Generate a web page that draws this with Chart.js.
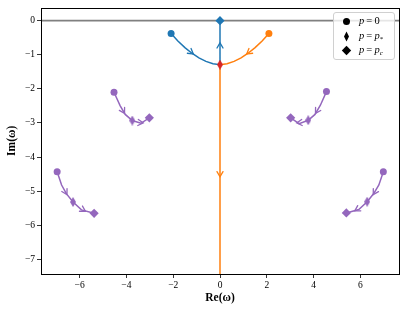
<!DOCTYPE html>
<html>
<head>
<meta charset="utf-8">
<script src="https://cdn.jsdelivr.net/npm/chart.js@4/dist/chart.umd.min.js"></script>
<style>
  body { margin: 0; background: #fff; }
  #wrap { position: relative; width: 407px; height: 314px; }
  #legend {
    position: absolute; left: 333px; top: 12px; width: 60px; height: 46px;
    border: 1px solid #d0d0d0; border-radius: 3px; background: rgba(255,255,255,0.8);
    font-family: "Liberation Serif", "Times New Roman", serif; font-size: 10.5px; color: #000;
  }
  .row { position: absolute; left: 0; height: 14px; line-height: 14px; width: 60px; }
  .row svg { position: absolute; left: 7px; top: 2px; }
  .row span { position: absolute; left: 25px; white-space: nowrap; }
  .row i { font-style: italic; }
  sub { font-size: 7px; vertical-align: -2px; }
</style>
</head>
<body>
<div id="wrap">
  <canvas id="chart" width="407" height="314"></canvas>
  <div id="legend">
    <div class="row" style="top:1px"><svg width="11" height="11"><circle cx="5.5" cy="5.5" r="3.5" fill="#000"/></svg><span><i>p</i>&#8201;=&#8201;0</span></div>
    <div class="row" style="top:16px"><svg width="11" height="11"><polygon points="5.5,0.5 8,5.5 5.5,10.5 3,5.5" fill="#000"/></svg><span><i>p</i>&#8201;=&#8201;<i>p</i><sub>*</sub></span></div>
    <div class="row" style="top:30px"><svg width="11" height="11"><polygon points="5.5,0.8 10.2,5.5 5.5,10.2 0.8,5.5" fill="#000"/></svg><span><i>p</i>&#8201;=&#8201;<i>p</i><sub><i>c</i></sub></span></div>
  </div>
</div>
<script>
// axis ticks
const xTicks = [-6, -4, -2, 0, 2, 4, 6];
const yTicks = [0, -1, -2, -3, -4, -5, -6, -7];

// root trajectories, Re and Im parts
const blueX = [-2.09, -1.8, -1.5, -1.2, -0.9, -0.6, -0.3, 0, 0];
const blueY = [-0.38, -0.595, -0.789, -0.955, -1.09, -1.194, -1.263, -1.29, 0];
const orangeX = [2.09, 1.8, 1.5, 1.2, 0.9, 0.6, 0.3, 0, 0];
const orangeY = [-0.38, -0.595, -0.789, -0.955, -1.09, -1.194, -1.263, -1.29, -8];
const purpleULX = [-4.53, -4.27, -4.05, -3.75, -3.38, -3.02];
const purpleULY = [-2.10, -2.49, -2.75, -2.93, -3.01, -2.85];
const purpleURX = [4.55, 4.29, 4.06, 3.77, 3.38, 3.02];
const purpleURY = [-2.08, -2.48, -2.75, -2.92, -3.02, -2.85];
const purpleLLX = [-6.96, -6.77, -6.56, -6.28, -5.92, -5.38];
const purpleLLY = [-4.43, -4.82, -5.08, -5.32, -5.55, -5.65];
const purpleLRX = [6.98, 6.79, 6.57, 6.29, 5.93, 5.40];
const purpleLRY = [-4.43, -4.82, -5.07, -5.31, -5.54, -5.64];

// markers: p = 0, p = p*, p = pc
const blueStartX = [-2.09];
const blueStartY = [-0.38];
const orangeStartX = [2.09];
const orangeStartY = [-0.38];
const purpleStartX = [-4.53, 4.55, -6.96, 6.98];
const purpleStartY = [-2.10, -2.08, -4.43, -4.43];
const redStarX = [0];
const redStarY = [-1.29];
const purpleStarX = [-3.75, 3.77, -6.28, 6.29];
const purpleStarY = [-2.93, -2.92, -5.32, -5.31];
const blueEndX = [0];
const blueEndY = [0];
const purpleEndX = [-3.02, 3.02, -5.38, 5.40];
const purpleEndY = [-2.85, -2.85, -5.65, -5.64];

// arrow heads: [from x, from y, tip x, tip y]
const blueArrows = [[-1.5, -0.789, -1.14, -0.98], [0, -1.0, 0, -0.65]];
const orangeArrows = [[1.5, -0.789, 1.14, -0.98], [0, -4.0, 0, -4.58]];
const purpleArrows = [
  [-4.27, -2.49, -4.08, -2.72], [-3.6, -2.98, -3.28, -3.0],
  [4.29, -2.48, 4.08, -2.72], [3.6, -2.98, 3.28, -3.0],
  [-6.77, -4.82, -6.54, -5.1], [-6.1, -5.45, -5.75, -5.59],
  [6.79, -4.82, 6.55, -5.1], [6.1, -5.44, 5.76, -5.58]
];

const BLUE = '#1f77b4', ORANGE = '#ff7f0e', RED = '#d62728', PURPLE = '#9467bd';
const serif = '"Liberation Serif", "Times New Roman", serif';

const pts = (xs, ys) => xs.map((x, i) => ({ x: x, y: ys[i] }));

function thinDiamond(color) {
  const c = document.createElement('canvas');
  c.width = 6; c.height = 10;
  const g = c.getContext('2d');
  g.fillStyle = color;
  g.beginPath();
  g.moveTo(3, 0); g.lineTo(6, 5); g.lineTo(3, 10); g.lineTo(0, 5);
  g.closePath(); g.fill();
  return c;
}

function path(xs, ys, color) {
  return { data: pts(xs, ys), showLine: true, borderColor: color, borderWidth: 1.5,
           pointRadius: 0, fill: false, tension: 0, order: 5 };
}

function marks(xs, ys, color, style, r) {
  return { data: pts(xs, ys), showLine: false, pointStyle: style, pointRadius: r,
           backgroundColor: color, borderColor: color, borderWidth: 0, order: 1 };
}

const arrowPlugin = {
  id: 'arrows',
  afterDatasetsDraw(chart) {
    const { ctx, scales: { x, y } } = chart;
    const groups = [[blueArrows, BLUE], [orangeArrows, ORANGE], [purpleArrows, PURPLE]];
    ctx.save();
    ctx.lineWidth = 1.3;
    ctx.lineCap = 'round';
    groups.forEach(([list, color]) => {
      ctx.strokeStyle = color;
      list.forEach(a => {
        const x0 = x.getPixelForValue(a[0]), y0 = y.getPixelForValue(a[1]);
        const x1 = x.getPixelForValue(a[2]), y1 = y.getPixelForValue(a[3]);
        const ang = Math.atan2(y1 - y0, x1 - x0);
        const L = 6, spread = Math.PI / 6;
        ctx.beginPath();
        ctx.moveTo(x1 - L * Math.cos(ang - spread), y1 - L * Math.sin(ang - spread));
        ctx.lineTo(x1, y1);
        ctx.lineTo(x1 - L * Math.cos(ang + spread), y1 - L * Math.sin(ang + spread));
        ctx.stroke();
      });
    });
    ctx.restore();
  }
};

const framePlugin = {
  id: 'frame',
  afterDraw(chart) {
    const { ctx, chartArea: a } = chart;
    ctx.save();
    ctx.strokeStyle = '#000';
    ctx.lineWidth = 1;
    ctx.strokeRect(Math.round(a.left) + 0.5, Math.round(a.top) + 0.5,
                   Math.round(a.right - a.left), Math.round(a.bottom - a.top));
    ctx.restore();
  }
};

const tickFmt = v => (v < 0 ? '\u2212' + Math.abs(v) : String(v));

new Chart(document.getElementById('chart'), {
  type: 'scatter',
  data: {
    datasets: [
      { data: [{ x: -7.65, y: 0 }, { x: 7.65, y: 0 }], showLine: true, borderColor: '#808080',
        borderWidth: 1.6, pointRadius: 0, order: 10 },
      path(blueX, blueY, BLUE),
      path(orangeX, orangeY, ORANGE),
      path(purpleULX, purpleULY, PURPLE),
      path(purpleURX, purpleURY, PURPLE),
      path(purpleLLX, purpleLLY, PURPLE),
      path(purpleLRX, purpleLRY, PURPLE),
      marks(blueStartX, blueStartY, BLUE, 'circle', 3.5),
      marks(orangeStartX, orangeStartY, ORANGE, 'circle', 3.5),
      marks(purpleStartX, purpleStartY, PURPLE, 'circle', 3.5),
      marks(redStarX, redStarY, RED, thinDiamond(RED), 4),
      marks(purpleStarX, purpleStarY, PURPLE, thinDiamond(PURPLE), 4),
      marks(blueEndX, blueEndY, BLUE, 'rectRot', 4.6),
      marks(purpleEndX, purpleEndY, PURPLE, 'rectRot', 4.6)
    ]
  },
  options: {
    responsive: false,
    animation: false,
    layout: { padding: { top: 7, right: 8, left: 0, bottom: 0 } },
    plugins: { legend: { display: false }, tooltip: { enabled: false } },
    scales: {
      x: {
        type: 'linear', min: -7.65, max: 7.65,
        afterBuildTicks: s => { s.ticks = xTicks.map(v => ({ value: v })); },
        afterFit: s => { s.height = 40; },
        grid: { drawOnChartArea: false, drawTicks: true, tickLength: 4, color: '#000', lineWidth: 0.8 },
        border: { display: false },
        ticks: { color: '#000', font: { family: serif, size: 9.5 }, padding: 2, maxRotation: 0,
                 autoSkip: false, callback: tickFmt },
        title: { display: true, text: 'Re(\u03c9)', color: '#000',
                 font: { family: serif, size: 11.5, weight: 'bold' }, padding: { top: 0, bottom: 9 } }
      },
      y: {
        type: 'linear', min: -7.43, max: 0.38,
        afterBuildTicks: s => { s.ticks = yTicks.map(v => ({ value: v })); },
        afterFit: s => { s.width = 41; },
        grid: { drawOnChartArea: false, drawTicks: true, tickLength: 4, color: '#000', lineWidth: 0.8 },
        border: { display: false },
        ticks: { color: '#000', font: { family: serif, size: 9.5 }, padding: 2,
                 autoSkip: false, callback: tickFmt },
        title: { display: true, text: 'Im(\u03c9)', color: '#000',
                 font: { family: serif, size: 11.5, weight: 'bold' }, padding: { top: 5, bottom: 0 } }
      }
    }
  },
  plugins: [arrowPlugin, framePlugin]
});
</script>
</body>
</html>
